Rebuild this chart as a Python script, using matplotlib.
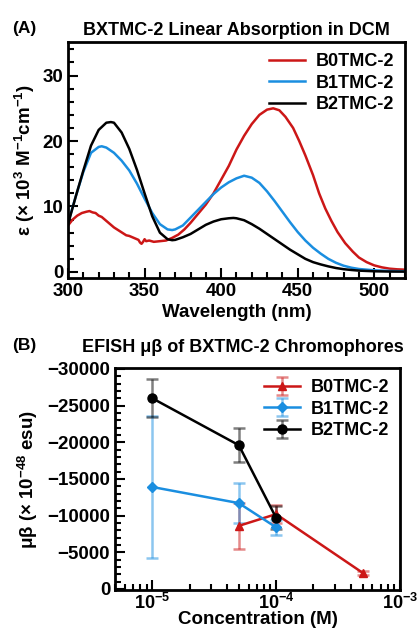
import numpy as np
import matplotlib
matplotlib.use("Agg")
import matplotlib.pyplot as plt
from matplotlib.ticker import MultipleLocator, FuncFormatter, LogLocator, NullFormatter

plt.rcParams['font.family'] = ['Liberation Sans', 'DejaVu Sans']
plt.rcParams['font.weight'] = 'bold'
plt.rcParams['mathtext.fontset'] = 'custom'
plt.rcParams['mathtext.rm'] = 'Liberation Sans:bold'
plt.rcParams['mathtext.default'] = 'rm'

# --- (A) linear absorption, eps in 10^3 M^-1 cm^-1 ---
wl_b0 = [300, 303, 306, 309, 312, 314, 316, 318, 320, 322, 324, 326, 328, 330,
         332, 334, 336, 338, 340, 342, 344, 346, 347, 348, 349, 350, 351, 353,
         356, 360, 364, 368, 372, 376, 380, 385, 390, 395, 400, 405, 410, 415,
         420, 425, 430, 434, 438, 442, 447, 451, 455, 460, 464, 468, 472, 476,
         481, 486, 490, 495, 500, 505, 510, 515, 520]
eps_b0 = [7.1, 8.0, 8.6, 9.0, 9.2, 9.3, 9.1, 9.0, 8.6, 8.4, 8.0, 7.6, 7.2, 6.8,
          6.5, 6.2, 5.9, 5.6, 5.5, 5.3, 5.1, 4.9, 4.5, 4.3, 4.6, 5.0, 4.7, 4.8,
          4.6, 4.7, 4.8, 5.2, 5.7, 6.5, 7.5, 8.9, 10.3, 12.0, 14.1, 16.2, 18.7, 20.8,
          22.6, 24.0, 24.8, 25.0, 24.7, 23.7, 22.0, 20.0, 17.8, 14.8, 12.0, 9.7, 7.8, 6.1,
          4.4, 3.1, 2.2, 1.5, 1.0, 0.7, 0.5, 0.4, 0.35]

wl_b1 = [300, 305, 310, 315, 320, 322, 325, 330, 335, 340, 345, 350, 355, 360,
         365, 368, 370, 375, 380, 385, 390, 395, 400, 405, 410, 415, 420, 425,
         430, 435, 440, 445, 450, 455, 460, 465, 470, 475, 480, 485, 490, 500,
         510, 520]
eps_b1 = [7.5, 11.5, 15.3, 18.2, 19.1, 19.2, 19.0, 18.2, 17.0, 15.5, 13.5, 11.2, 9.0, 7.3,
          6.5, 6.4, 6.5, 7.1, 8.3, 9.5, 10.7, 11.9, 12.9, 13.7, 14.3, 14.7, 14.4, 13.6,
          12.3, 10.8, 9.2, 7.6, 6.1, 4.8, 3.7, 2.8, 2.0, 1.4, 0.95, 0.65, 0.45, 0.25,
          0.15, 0.1]

wl_b2 = [300, 305, 310, 315, 320, 325, 328, 330, 335, 340, 345, 350, 355, 360,
         365, 368, 370, 375, 380, 385, 390, 395, 400, 405, 408, 410, 415, 420,
         425, 430, 435, 440, 445, 450, 455, 460, 465, 470, 475, 480, 485, 490,
         500, 510, 520]
eps_b2 = [7.3, 11.5, 15.5, 19.3, 21.7, 22.8, 22.9, 22.8, 21.3, 18.8, 15.6, 12.0, 8.5, 6.0,
          5.0, 4.85, 4.9, 5.3, 5.8, 6.5, 7.2, 7.7, 8.05, 8.2, 8.25, 8.2, 7.9, 7.3,
          6.6, 5.8, 5.0, 4.2, 3.4, 2.7, 2.0, 1.5, 1.15, 0.85, 0.6, 0.42, 0.3, 0.2,
          0.1, 0.06, 0.05]

# --- (B) EFISH mu-beta, 10^-48 esu ---
conc_b0 = [5e-5, 1e-4, 5e-4]
mb_b0 = [-8600, -10200, -2200]
err_b0 = [3100, 1200, 300]

conc_b1 = [1e-5, 5e-5, 1e-4]
mb_b1 = [-13900, -11700, -8400]
err_b1 = [9700, 2700, 1000]

conc_b2 = [1e-5, 5e-5, 1e-4]
mb_b2 = [-26000, -19600, -9700]
err_b2 = [2600, 2300, 1550]

labels = ["B0TMC-2", "B1TMC-2", "B2TMC-2"]
RED = "#cc1717"
BLUE = "#1a8ee0"
BLACK = "black"

FS = 13.5

def style_axes(ax):
    for s in ax.spines.values():
        s.set_linewidth(2)
    ax.tick_params(which='both', direction='in', top=False, right=False, width=1.5,
                   labelsize=FS)
    ax.tick_params(which='major', length=7)
    ax.tick_params(which='minor', length=4)

fig = plt.figure(figsize=(4.2, 6.3), dpi=100)

# panel A
ax1 = fig.add_axes([0.162, 0.559, 0.802, 0.374])
ax1.plot(wl_b0, eps_b0, color=RED, lw=1.8, label=labels[0])
ax1.plot(wl_b1, eps_b1, color=BLUE, lw=1.8, label=labels[1])
ax1.plot(wl_b2, eps_b2, color=BLACK, lw=1.8, label=labels[2])
ax1.set_xlim(300, 520)
ax1.set_ylim(-0.9, 35.1)
ax1.xaxis.set_major_locator(MultipleLocator(50))
ax1.xaxis.set_minor_locator(MultipleLocator(10))
ax1.yaxis.set_major_locator(MultipleLocator(10))
ax1.yaxis.set_minor_locator(MultipleLocator(2))
style_axes(ax1)
ax1.set_xlabel("Wavelength (nm)", fontsize=FS, fontweight='bold', labelpad=3)
ax1.set_ylabel(r"ε (× 10$^{3}$ M$^{-1}$cm$^{-1}$)", fontsize=FS, fontweight='bold', labelpad=4)
ax1.set_title("BXTMC-2 Linear Absorption in DCM", fontsize=13, fontweight='bold', pad=5)
ax1.legend(loc='upper right', fontsize=13, frameon=False, handlelength=2.0,
           handletextpad=0.6, labelspacing=0.25, borderaxespad=0.2)
fig.text(0.03, 0.948, "(A)", fontsize=12.5, fontweight='bold')

# panel B
ax2 = fig.add_axes([0.274, 0.0635, 0.678, 0.352])
ax2.errorbar(conc_b0, mb_b0, yerr=err_b0, color=RED, lw=1.8, marker='^', ms=6,
             ecolor=RED, elinewidth=1.8, capsize=4, capthick=1.8, label=labels[0])
ax2.errorbar(conc_b1, mb_b1, yerr=err_b1, color=BLUE, lw=1.8, marker='D', ms=5,
             ecolor=BLUE, elinewidth=1.8, capsize=4, capthick=1.8, label=labels[1])
ax2.errorbar(conc_b2, mb_b2, yerr=err_b2, color=BLACK, lw=1.8, marker='o', ms=6.5,
             ecolor=BLACK, elinewidth=1.8, capsize=4, capthick=1.8, label=labels[2])
# error bars drawn lighter than the data lines
for c in ax2.containers:
    for art in c.lines[1] + c.lines[2]:
        art.set_alpha(0.5)
ax2.set_xscale('log')
ax2.set_xlim(5e-6, 1e-3)
ax2.set_ylim(150, -30100)
ax2.xaxis.set_major_locator(LogLocator(base=10, numticks=10))
ax2.xaxis.set_minor_locator(LogLocator(base=10, subs=np.arange(2, 10), numticks=10))
ax2.xaxis.set_minor_formatter(NullFormatter())
ax2.yaxis.set_major_locator(MultipleLocator(5000))
ax2.yaxis.set_minor_locator(MultipleLocator(1000))
ax2.yaxis.set_major_formatter(FuncFormatter(lambda v, p: f"{int(v)}".replace("-", "\u2212")))
style_axes(ax2)
ax2.tick_params(axis='x', which='major', pad=2, labelsize=13)
ax2.set_xlabel("Concentration (M)", fontsize=FS, fontweight='bold', labelpad=-1)
ax2.set_ylabel(r"μβ (× 10$^{-48}$ esu)", fontsize=FS, fontweight='bold', labelpad=5)
ax2.set_title("EFISH μβ of BXTMC-2 Chromophores", fontsize=13, fontweight='bold',
              pad=12, x=0.45)
ax2.legend(loc='upper right', fontsize=13, frameon=False, handlelength=2.0,
           handletextpad=0.6, labelspacing=0.25, borderaxespad=0.2)
fig.text(0.03, 0.445, "(B)", fontsize=12.5, fontweight='bold')

fig.savefig("out.png", dpi=100)
